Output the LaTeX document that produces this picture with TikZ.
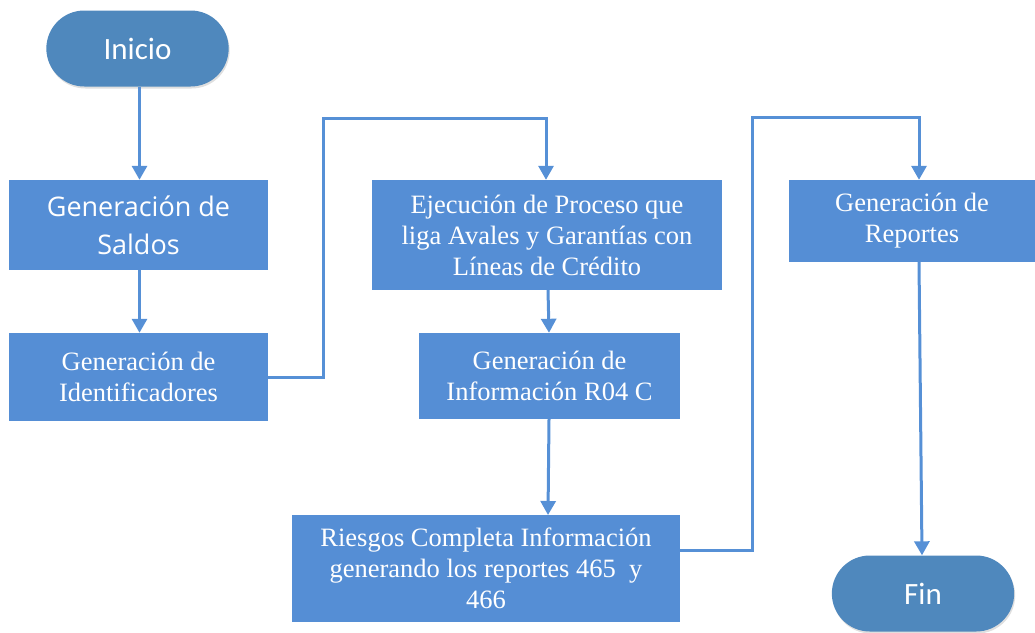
\documentclass[tikz,border=0pt]{standalone}
\usepackage{fontspec}
\setmainfont{Liberation Serif}
\newfontfamily\segoe{Open Sans}
\newfontfamily\calib{Carlito}
\usetikzlibrary{arrows.meta,shapes.misc,shadows}
\definecolor{boxblue}{HTML}{558ED5}
\definecolor{termblue}{HTML}{4F88BD}
\definecolor{lineblue}{HTML}{5690D6}
\begin{document}
\begin{tikzpicture}[x=1pt,y=-1pt,
  procbox/.style={fill=boxblue,draw=none,text=white,align=center,font=\fontsize{26.5}{31}\selectfont,inner sep=0pt},
  term/.style={rounded rectangle,fill=termblue,draw=none,text=white,font=\calib\fontsize{31}{34}\selectfont,
    minimum width=189pt,minimum height=76pt,drop shadow={opacity=0.25,shadow xshift=1pt,shadow yshift=-2pt}},
  conn/.style={draw=lineblue,line width=3pt,-{Triangle[length=14pt,width=15pt]}}]
\useasboundingbox (0,0) rectangle (1035,632);
\node[term] (ini) at (137.5,48.5) {Inicio};
\node[term] (fin) at (923,593.5) {Fin};
\node[procbox,minimum width=259pt,minimum height=90pt,font=\segoe\fontsize{27}{38}\selectfont] (sal) at (138.5,225) {Generación de\\Saldos};
\node[procbox,minimum width=259pt,minimum height=88pt] (ide) at (138.5,377) {Generación de\\Identificadores};
\node[procbox,minimum width=350pt,minimum height=110pt] (eje) at (547,235) {Ejecución de Proceso que\\liga Avales y Garantías con\\Líneas de Crédito};
\node[procbox,minimum width=261pt,minimum height=86pt] (r04) at (549.5,376) {Generación de\\Información R04 C};
\node[procbox,minimum width=388pt,minimum height=107pt] (rie) at (486,568.5) {Riesgos Completa Información\\generando los reportes 465~ y\\466};
\node[procbox,minimum width=246pt,minimum height=82pt] (rep) at (912,221) {Generación de\\Reportes};
\coordinate (c1) at (323,377);
\coordinate (c2) at (323,118);
\coordinate (c3) at (546,118);
\coordinate (d1) at (752,550);
\coordinate (d2) at (752,117);
\coordinate (d3) at (919,117);
\draw[conn] (ini.south -| sal.north) ++(1,0) -- ([xshift=1pt]sal.north);
\draw[conn] ([xshift=1pt]sal.south) -- ([xshift=1pt]ide.north);
\draw[conn] (ide.east) -- (c1) -- (c2) -- (c3) -- (c3 |- eje.north);
\draw[conn] ([xshift=1pt]eje.south) -- ([xshift=-0.5pt]r04.north);
\draw[conn] ([xshift=-0.5pt]r04.south) -- (548,515) coordinate (rt);
\draw[conn] (d1 -| rie.east) -- (d1) -- (d2) -- (d3) -- (d3 |- rep.north);
\draw[conn] (d3 |- rep.south) -- ([xshift=-1pt]fin.north);
\end{tikzpicture}
\end{document}
